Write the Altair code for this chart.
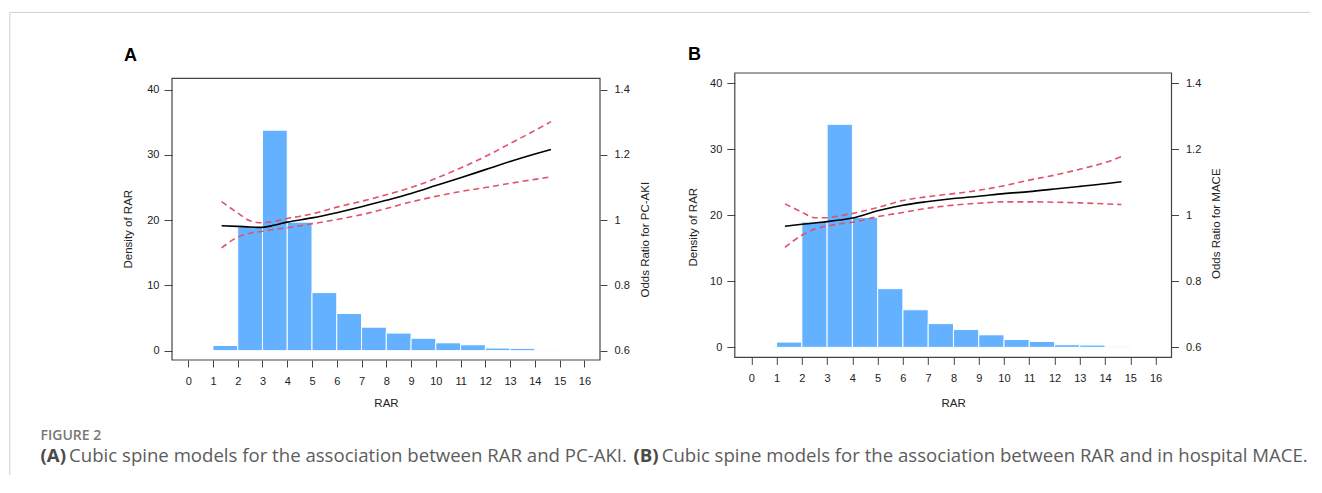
import altair as alt
import pandas as pd

# ---------------- data ----------------
bin_start = [1, 2, 3, 4, 5, 6, 7, 8, 9, 10, 11, 12, 13, 14]
bin_end = [2, 3, 4, 5, 6, 7, 8, 9, 10, 11, 12, 13, 14, 15]
density = [0.8, 19.0, 33.8, 19.7, 8.9, 5.7, 3.6, 2.7, 1.9, 1.2, 0.9, 0.4, 0.35, 0.1]

rar_a = [1.35, 2.0, 2.5, 3.0, 3.5, 4.0, 5.0, 6.0, 7.0, 8.0, 9.0, 10.0, 11.0, 12.0, 13.0, 14.0, 14.65]
or_a = [0.983, 0.981, 0.979, 0.978, 0.985, 0.994, 1.007, 1.023, 1.041, 1.061, 1.082, 1.106, 1.130, 1.155, 1.180, 1.203, 1.217]
upper_a = [1.057, 1.022, 0.998, 0.992, 0.997, 1.005, 1.019, 1.040, 1.058, 1.078, 1.100, 1.128, 1.160, 1.195, 1.235, 1.275, 1.302]
lower_a = [0.915, 0.948, 0.960, 0.966, 0.972, 0.977, 0.989, 1.002, 1.017, 1.036, 1.056, 1.073, 1.088, 1.100, 1.113, 1.125, 1.133]

rar_b = [1.33, 2.0, 2.5, 3.0, 3.5, 4.0, 5.0, 6.0, 7.0, 8.0, 9.0, 10.0, 11.0, 12.0, 13.0, 14.0, 14.65]
or_b = [0.967, 0.973, 0.977, 0.981, 0.986, 0.992, 1.014, 1.031, 1.042, 1.051, 1.058, 1.066, 1.072, 1.080, 1.088, 1.096, 1.102]
upper_b = [1.035, 1.010, 0.993, 0.993, 0.999, 1.006, 1.024, 1.045, 1.057, 1.066, 1.076, 1.090, 1.107, 1.122, 1.140, 1.160, 1.178]
lower_b = [0.903, 0.940, 0.958, 0.968, 0.974, 0.979, 0.996, 1.009, 1.022, 1.031, 1.037, 1.041, 1.041, 1.040, 1.038, 1.035, 1.033]

x_ticks = list(range(0, 17))
dens_ticks = [0, 10, 20, 30, 40]
or_ticks = [0.6, 0.8, 1.0, 1.2, 1.4]

caption_head = "FIGURE 2"
caption_a_tag = "(A)"
caption_a_text = "Cubic spine models for the association between RAR and PC-AKI."
caption_b_tag = "(B)"
caption_b_text = "Cubic spine models for the association between RAR and in hospital MACE."

# ---------------- style ----------------
X_DOMAIN = [-0.654, 16.63]
FONT = "Liberation Sans"
CAP_FONT = "Open Sans"
AX = "#444444"
LBL = "#222222"
RED = "#DF536B"
BLUE = "#63B1FF"
CAP_SIZE = 18.6

hist_df = pd.DataFrame({"start": bin_start, "end": bin_end, "density": density,
                        "base": [0.0] * len(density)})
one = pd.DataFrame({"k": [0]})


def ci_frame(rar, up, lo):
    return pd.DataFrame({
        "rar": list(rar) + list(rar),
        "or": list(up) + list(lo),
        "series": ["upper"] * len(rar) + ["lower"] * len(rar),
    })


def txt(text, x, y, size, weight="normal", font=FONT, color="black", align="left"):
    return alt.Chart(one).mark_text(
        text=text, font=font, fontSize=size, fontWeight=weight, color=color,
        align=align, baseline="middle"
    ).encode(x=alt.value(x), y=alt.value(y))


def panel(rar, orv, up, lo, w, h, box_top, d_domain, label, label_xy, dens_t,
          or_title, or_t, xt_y, extras):
    or_domain = [0.6 + 0.02 * d_domain[0], 0.6 + 0.02 * d_domain[1]]
    xs = alt.Scale(domain=X_DOMAIN, nice=False, zero=False)
    x_axis = alt.Axis(values=x_ticks, title="RAR", format="d", tickSize=7,
                      labelPadding=8, labelFlush=False, labelOverlap=False,
                      titleX=w / 2, titleY=xt_y, titleAlign="center",
                      titleBaseline="middle")
    box = alt.Chart(one).mark_rect(fill=None, stroke=AX, strokeWidth=1.2).encode(
        x=alt.value(0), x2=alt.value(w), y=alt.value(box_top), y2=alt.value(h))
    bars = alt.Chart(hist_df).mark_rect(color=BLUE, stroke="white", strokeWidth=1).encode(
        x=alt.X("start:Q", scale=xs, axis=x_axis),
        x2="end:Q",
        y=alt.Y("density:Q", scale=alt.Scale(domain=d_domain, nice=False, zero=False),
                axis=alt.Axis(orient="left", values=dens_ticks, format="d",
                              title="Density of RAR", tickSize=8, labelPadding=5,
                              titleAngle=270, titleX=dens_t[0], titleY=dens_t[1],
                              titleAlign="center", titleBaseline="middle")),
        y2="base:Q",
    )
    ci = alt.Chart(ci_frame(rar, up, lo)).mark_line(
        color=RED, strokeDash=[6, 4], strokeWidth=1.6, interpolate="monotone"
    ).encode(
        x=alt.X("rar:Q", scale=xs, axis=x_axis),
        y=alt.Y("or:Q", scale=alt.Scale(domain=or_domain, nice=False, zero=False), axis=None),
        detail="series:N",
    )
    est = alt.Chart(pd.DataFrame({"rar": rar, "or": orv})).mark_line(
        color="black", strokeWidth=1.6, interpolate="monotone"
    ).encode(
        x=alt.X("rar:Q", scale=xs, axis=x_axis),
        y=alt.Y("or:Q", scale=alt.Scale(domain=or_domain, nice=False, zero=False),
                axis=alt.Axis(orient="right", values=or_ticks, format="~g", title=or_title,
                              tickSize=7, labelPadding=7, titleAngle=270,
                              titleX=or_t[0], titleY=or_t[1], titleAlign="center",
                              titleBaseline="middle")),
    )
    lab = txt(label, label_xy[0], label_xy[1], 18, weight="bold", align="center")
    return alt.layer(box, bars, ci, est, lab, *extras).resolve_scale(y="independent").properties(
        width=w, height=h
    )


# page-level decorations (drawn relative to the panel plot origin)
frame_v = alt.Chart(one).mark_rule(color="#cfcfcf", strokeWidth=1).encode(
    x=alt.value(-162.2), y=alt.value(-60.6), y2=alt.value(402))
frame_h = alt.Chart(one).mark_rule(color="#cfcfcf", strokeWidth=1).encode(
    x=alt.value(-162.2), x2=alt.value(1138), y=alt.value(-60.6))
cap_y = 382.7
extras_a = [
    frame_v, frame_h,
    txt(caption_head, -131.5, 362.7, 14, weight=600, font=CAP_FONT, color="#777777"),
    txt(caption_a_tag, -131.5, cap_y, CAP_SIZE, weight="bold", font=CAP_FONT, color="#4a4a4a"),
    txt(caption_a_text, -102.9, cap_y, CAP_SIZE, font=CAP_FONT, color="#5c5c5c"),
    txt(caption_b_tag, 461.5, cap_y, CAP_SIZE, weight="bold", font=CAP_FONT, color="#4a4a4a"),
    txt(caption_b_text, 489.7, cap_y, CAP_SIZE, font=CAP_FONT, color="#5c5c5c"),
]

# Panel A: box from 5.4 px below the common top, 6.525 px per density unit
panel_a = panel(rar_a, or_a, upper_a, lower_a, 428, 287, 5.4, [-1.43, 42.56],
                "A", (-41.5, -17.3), (-43.5, 155.7),
                "Odds Ratio for PC-AKI", (45.1, 166.2), 43.7, extras_a)
panel_b = panel(rar_b, or_b, upper_b, lower_b, 436.7, 284.4, 0, [-1.52, 41.58],
                "B", (-40.3, -18.3), (-41.3, 153.7),
                "Odds Ratio for MACE", (44.7, 150.2), 46.3, [])

chart = alt.hconcat(panel_a, panel_b, spacing=134.8, bounds="flush").properties(
    padding={"left": 1, "top": 3, "right": 0, "bottom": 0}
).configure_axis(
    grid=False, domain=False, labelFont=FONT, titleFont=FONT, labelFontSize=11,
    titleFontSize=11.5, labelColor=LBL, titleColor=LBL, tickColor=AX, tickWidth=1,
    titleFontWeight="normal"
).configure_view(strokeOpacity=0)

chart.save("out.html", embed_options={"renderer": "svg", "actions": False})
